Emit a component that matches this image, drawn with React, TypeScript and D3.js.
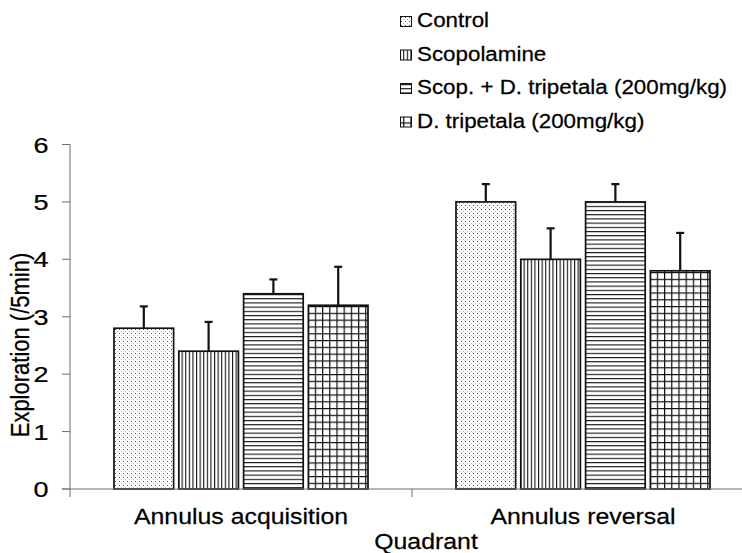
import React from "react";
import * as d3 from "d3";

const categories = ["Annulus acquisition", "Annulus reversal"];
const seriesNames = ["Control", "Scopolamine", "Scop. + D. tripetala (200mg/kg)", "D. tripetala (200mg/kg)"];
const controlValues = [2.8, 5.0];
const scopolamineValues = [2.4, 4.0];
const scopDtValues = [3.4, 5.0];
const dtValues = [3.2, 3.8];
const controlErr = [0.38, 0.31];
const scopolamineErr = [0.51, 0.54];
const scopDtErr = [0.25, 0.31];
const dtErr = [0.67, 0.66];
const yTicks = [0, 1, 2, 3, 4, 5, 6];

const values = [controlValues, scopolamineValues, scopDtValues, dtValues];
const errors = [controlErr, scopolamineErr, scopDtErr, dtErr];
const patternIds = ["pDots", "pVert", "pHoriz", "pGrid"];

const W = 742, H = 553;
const SX = 1.13;
const FONT = "'Liberation Sans', Arial, sans-serif";

export default function App() {
  const y = d3.scaleLinear().domain([0, 6]).range([489, 144.5]);
  const x0 = d3.scaleBand<string>().domain(categories).range([70, 754]).padding(0);
  const x1 = d3.scaleBand<string>().domain(seriesNames).range([44, 298]).paddingInner(0.08).paddingOuter(0);
  const axisColor = "#6e6e6e";
  const legendBaselines = [27, 60.5, 94, 127.5];
  const txt = { fill: "#000", stroke: "#000", strokeWidth: 0.25 };

  return (
    <svg width={W} height={H} style={{ display: "block", position: "absolute", left: 0, top: 0 }} fontFamily={FONT}>
      <defs>
        <pattern id="pDots" patternUnits="userSpaceOnUse" width="4" height="4">
          <rect width="4" height="4" fill="#fff" />
          <rect x="1" y="1" width="1" height="1" fill="#555" />
          <rect x="3" y="3" width="1" height="1" fill="#b5b5b5" />
        </pattern>
        <pattern id="pVert" patternUnits="userSpaceOnUse" width="3.6" height="4">
          <rect width="3.6" height="4" fill="#fff" />
          <rect x="0" y="0" width="1.1" height="4" fill="#111" />
        </pattern>
        <pattern id="pHoriz" patternUnits="userSpaceOnUse" width="4" height="4.2">
          <rect width="4" height="4.2" fill="#fff" />
          <rect x="0" y="0" width="4" height="1.1" fill="#111" />
        </pattern>
        <pattern id="pGrid" patternUnits="userSpaceOnUse" width="7.2" height="6.8">
          <rect width="7.2" height="6.8" fill="#fff" />
          <rect x="0" y="0" width="1.2" height="6.8" fill="#111" />
          <rect x="0" y="0" width="7.2" height="1.2" fill="#111" />
        </pattern>
      </defs>
      <rect width={W} height={H} fill="#fff" />

      {/* Legend */}
      {seriesNames.map((s, i) => (
        <g key={s}>
          <rect x={400.5} y={legendBaselines[i] - 10.5} width={11} height={10} fill={`url(#${patternIds[i]})`} stroke="#111" strokeWidth={1} />
          <text transform={`translate(417,${legendBaselines[i]}) scale(${SX},1)`} fontSize={19.8} {...txt}>{s}</text>
        </g>
      ))}

      {/* Bars */}
      {categories.map((c, ci) => (
        <g key={c} transform={`translate(${x0(c)},0)`}>
          {seriesNames.map((s, si) => {
            const v = values[si][ci];
            const e = errors[si][ci];
            const bx = x1(s)!;
            const bw = x1.bandwidth();
            const cx = bx + bw / 2;
            return (
              <g key={s}>
                <line x1={cx} x2={cx} y1={y(v)} y2={y(v + e)} stroke="#111" strokeWidth={2.2} />
                <line x1={cx - 4} x2={cx + 4} y1={y(v + e)} y2={y(v + e)} stroke="#111" strokeWidth={2.2} />
                <rect x={bx} y={y(v)} width={bw} height={y(0) - y(v)} fill={`url(#${patternIds[si]})`} stroke="#111" strokeWidth={1.7} />
              </g>
            );
          })}
        </g>
      ))}

      {/* Axes */}
      <line x1={70} x2={70} y1={y(6)} y2={497} stroke={axisColor} strokeWidth={1} />
      <line x1={62} x2={742} y1={y(0)} y2={y(0)} stroke={axisColor} strokeWidth={1.2} />
      {yTicks.map((t) => (
        <g key={t}>
          <line x1={62} x2={70} y1={y(t)} y2={y(t)} stroke={axisColor} strokeWidth={1} />
          <text transform={`translate(48.5,${y(t) + 8.1}) scale(1.2,1)`} fontSize={22.5} textAnchor="end" {...txt}>{t}</text>
        </g>
      ))}
      {categories.slice(1).map((c) => (
        <line key={c} x1={x0(c)} x2={x0(c)} y1={y(0)} y2={497} stroke={axisColor} strokeWidth={1} />
      ))}
      {categories.map((c) => (
        <text key={c} transform={`translate(${x0(c)! + x0.bandwidth() / 2},523.5) scale(${SX},1)`} fontSize={22} textAnchor="middle" {...txt}>{c}</text>
      ))}
      <text transform={`translate(426,549) scale(${SX},1)`} fontSize={22} textAnchor="middle" {...txt}>Quadrant</text>
      <text transform={`translate(28.5,345) scale(${SX},1) rotate(-90)`} fontSize={22} textAnchor="middle" {...txt}>Exploration (/5min)</text>
    </svg>
  );
}
